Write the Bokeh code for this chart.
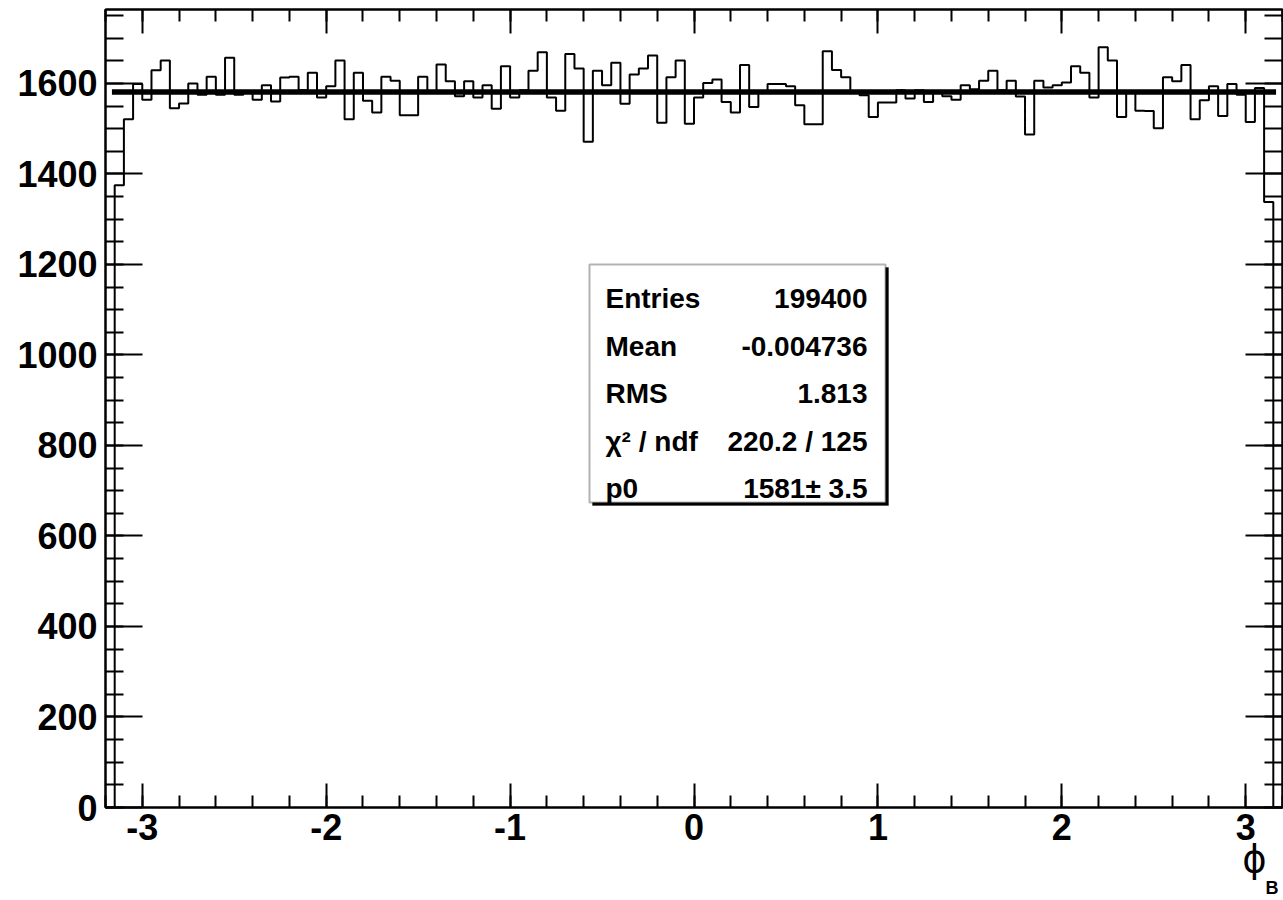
import numpy as np
from bokeh.plotting import figure
from bokeh.models import (LinearAxis, SingleIntervalTicker, FixedTicker, Range1d, Label,
                          BoxAnnotation, PrintfTickFormatter, CustomJSTickFormatter)
from bokeh.embed import file_html
from bokeh.resources import INLINE

# ---------------- data ----------------
X_MIN, X_MAX, N_BINS = -3.2, 3.2, 128
Y_MAX = 1763.5
# contents of bins 1..126 (bins 0 and 127 are empty)
counts_inner = [
    1375, 1521, 1599, 1564, 1629, 1651, 1545, 1556, 1600, 1575,
    1615, 1575, 1657, 1575, 1582, 1564, 1596, 1560, 1613, 1615,
    1585, 1624, 1569, 1594, 1651, 1521, 1624, 1562, 1536, 1615,
    1606, 1530, 1530, 1615, 1582, 1642, 1605, 1572, 1605, 1569,
    1596, 1544, 1638, 1569, 1585, 1628, 1669, 1569, 1540, 1665,
    1633, 1471, 1628, 1596, 1646, 1555, 1620, 1633, 1662, 1513,
    1614, 1651, 1511, 1569, 1601, 1609, 1559, 1536, 1641, 1548,
    1580, 1599, 1599, 1594, 1552, 1510, 1510, 1671, 1630, 1614,
    1582, 1574, 1526, 1558, 1558, 1585, 1567, 1585, 1559, 1582,
    1572, 1564, 1596, 1587, 1606, 1628, 1585, 1606, 1571, 1487,
    1606, 1591, 1596, 1602, 1638, 1624, 1569, 1680, 1651, 1526,
    1580, 1540, 1539, 1501, 1614, 1605, 1641, 1521, 1563, 1594,
    1528, 1599, 1575, 1515, 1590, 1338,
]
fit_p0 = 1581.0
fit_range = [-3.165, 3.165]
x_tick_interval = 1.0
y_tick_interval = 200.0
stat_names = ["Entries", "Mean", "RMS", "\u03c7\u00b2 / ndf", "p0"]
stat_values = ["199400", "-0.004736", "1.813", "220.2 / 125", "1581\u00b1 3.5"]
x_title_main = "\u03d5"
x_title_sub = "B"

# ---------------- layout helpers (pixel -> data) ----------------
W, H = 1283, 900
FL, FR, FT, FB = 105.0, 1282.0, 9.0, 807.0
def px2x(px):
    return X_MIN + (px - FL) / (FR - FL) * (X_MAX - X_MIN)
def py2y(py):
    return (FB - py) / (FB - FT) * Y_MAX

FONT = "Liberation Sans"

p = figure(width=W, height=H, output_backend="svg", toolbar_location=None,
           x_range=Range1d(X_MIN, X_MAX), y_range=Range1d(0, Y_MAX),
           x_axis_type=None, y_axis_type=None,
           min_border_left=int(FL), min_border_right=int(W - FR), min_border_top=int(FT),
           min_border_bottom=int(H - FB))
p.background_fill_color = "white"
p.border_fill_color = "white"
p.outline_line_color = "black"
p.outline_line_width = 2

def make_axis(interval, minors, tick_in, minor_in, show_labels, standoff):
    ax = LinearAxis(ticker=SingleIntervalTicker(interval=interval, num_minor_ticks=minors))
    ax.axis_line_color = "black"
    ax.axis_line_width = 2
    ax.major_tick_in = tick_in
    ax.major_tick_out = 0
    ax.minor_tick_in = minor_in
    ax.minor_tick_out = 0
    ax.major_tick_line_width = 2
    ax.minor_tick_line_width = 2
    ax.major_tick_line_color = "black"
    ax.minor_tick_line_color = "black"
    ax.major_label_standoff = standoff
    if show_labels:
        ax.formatter = PrintfTickFormatter(format="%d")
        ax.major_label_text_font = FONT
        ax.major_label_text_font_style = "bold"
        ax.major_label_text_font_size = "36px"
        ax.major_label_text_color = "black"
    else:
        ax.major_label_text_font_size = "0px"
        ax.major_label_text_color = None
    return ax

p.add_layout(make_axis(y_tick_interval, 4, 37, 18, True, 8), "left")
p.add_layout(make_axis(y_tick_interval, 4, 37, 18, False, 0), "right")
p.add_layout(make_axis(x_tick_interval, 5, 24, 12, True, 6), "below")
p.add_layout(make_axis(x_tick_interval, 5, 24, 12, False, 0), "above")

# axis title phi_B, drawn as label-only axes stacked under the x axis
def title_axis(xpos, text, font, size, style, standoff):
    ax = LinearAxis(ticker=FixedTicker(ticks=[xpos], minor_ticks=[]),
                    formatter=CustomJSTickFormatter(code="return '%s';" % text))
    ax.axis_line_color = None
    ax.major_tick_line_color = None
    ax.minor_tick_line_color = None
    ax.major_tick_in = 0
    ax.major_tick_out = 0
    ax.minor_tick_in = 0
    ax.minor_tick_out = 0
    ax.major_label_standoff = standoff
    ax.major_label_text_font = font
    ax.major_label_text_font_size = size
    ax.major_label_text_font_style = style
    ax.major_label_text_color = "black"
    return ax

p.add_layout(title_axis(px2x(1254), x_title_main, "DejaVu Sans", "37px", "normal", -5), "below")
p.add_layout(title_axis(px2x(1271.5), x_title_sub, FONT, "18px", "bold", -6), "below")

# histogram outline
edges = np.linspace(X_MIN, X_MAX, N_BINS + 1)
counts = np.array([0] + counts_inner + [0], dtype=float)
xs = np.repeat(edges, 2)
ys = np.concatenate([[0.0], np.repeat(counts, 2), [0.0]])
p.line(xs, ys, line_color="black", line_width=2)

# fit line
p.line(fit_range, [fit_p0, fit_p0], line_color="black", line_width=5.5)

# stats box (shadow + box)
p.add_layout(BoxAnnotation(left=px2x(592), right=px2x(888), top=py2y(267), bottom=py2y(505),
                           fill_color="black", fill_alpha=1.0, line_color="black", line_width=1))
p.add_layout(BoxAnnotation(left=px2x(589), right=px2x(885), top=py2y(264), bottom=py2y(502),
                           fill_color="white", fill_alpha=1.0, line_color="black", line_width=2))
baselines = [298, 345.5, 393, 440.5, 488]
for name, val, by in zip(stat_names, stat_values, baselines):
    p.add_layout(Label(x=px2x(605), y=py2y(by), text=name, text_font=FONT,
                       text_font_style="bold", text_font_size="28px",
                       text_baseline="alphabetic", text_align="left", text_color="black"))
    p.add_layout(Label(x=px2x(867), y=py2y(by), text=val, text_font=FONT,
                       text_font_style="bold", text_font_size="28px",
                       text_baseline="alphabetic", text_align="right", text_color="black"))

open("out.html", "w").write(file_html(p, INLINE))
